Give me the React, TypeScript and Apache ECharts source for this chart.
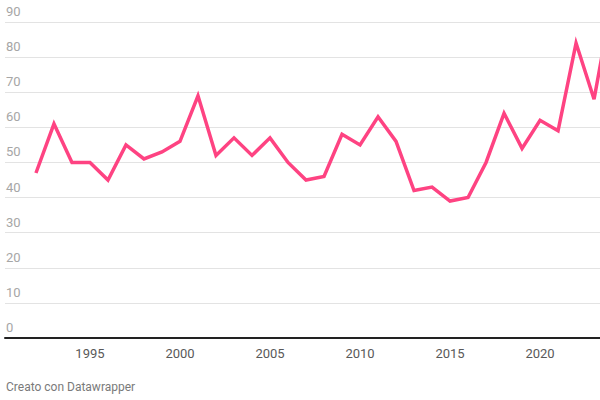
import React, { useEffect, useRef } from "react";
import * as echarts from "echarts";

const years = [1992, 1993, 1994, 1995, 1996, 1997, 1998, 1999, 2000, 2001, 2002, 2003, 2004, 2005, 2006, 2007, 2008, 2009, 2010, 2011, 2012, 2013, 2014, 2015, 2016, 2017, 2018, 2019, 2020, 2021, 2022, 2023, 2024];
const values = [47, 61, 50, 50, 45, 55, 51, 53, 56, 69, 52, 57, 52, 57, 50, 45, 46, 58, 55, 63, 56, 42, 43, 39, 40, 50, 64, 54, 62, 59, 84, 68, 96];
const xTicks = [1995, 2000, 2005, 2010, 2015, 2020];
const footer = "Creato con Datawrapper";

export default function App() {
  const ref = useRef<HTMLDivElement>(null);
  useEffect(() => {
    if (!ref.current) return;
    const chart = echarts.init(ref.current, null, { renderer: "svg" });
    chart.setOption({
      animation: false,
      backgroundColor: "#ffffff",
      textStyle: { fontFamily: "Roboto" },
      grid: { left: 5, right: 0, top: 22, bottom: 62, containLabel: false },
      xAxis: {
        type: "value",
        min: 1990.28,
        max: 2023.33,
        axisLine: { show: true, onZero: false, lineStyle: { color: "#222222", width: 2 } },
        axisTick: { show: false },
        splitLine: { show: false },
        axisLabel: {
          customValues: xTicks,
          formatter: (v: number) => String(v),
          color: "#595959",
          fontSize: 13,
          margin: 9,
          fontFamily: "Roboto",
        },
      },
      yAxis: {
        type: "value",
        min: 0,
        max: 90,
        interval: 10,
        axisLine: { show: false },
        axisTick: { show: false },
        splitLine: { show: true, lineStyle: { color: "#e3e3e3", width: 1 } },
        axisLabel: {
          inside: true,
          margin: 1,
          align: "left",
          verticalAlign: "bottom",
          padding: [0, 0, 4, 0],
          color: "#a6a6a6",
          fontSize: 13,
          fontFamily: "Roboto",
        },
      },
      series: [
        {
          type: "line",
          data: years.map((y, i) => [y, values[i]]),
          showSymbol: false,
          clip: true,
          lineStyle: { color: "#fe4382", width: 3.5, join: "miter" },
          z: 5,
        },
      ],
      graphic: [
        {
          type: "text",
          left: 6,
          top: 381,
          style: { text: footer, fill: "#7a7a7a", font: "12px Roboto" },
        },
      ],
    });
    return () => chart.dispose();
  }, []);
  return <div ref={ref} style={{ position: "fixed", left: 0, top: 0, width: 600, height: 400 }} />;
}
